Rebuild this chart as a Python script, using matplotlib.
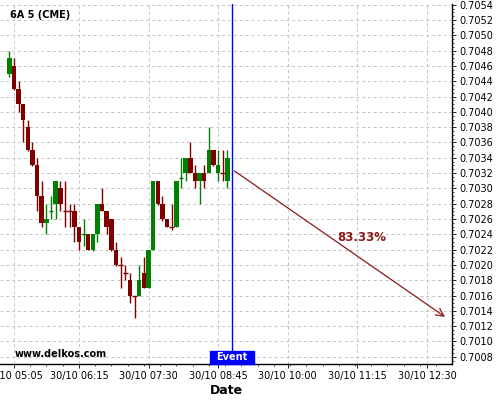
import numpy as np
import pandas as pd
import matplotlib
matplotlib.use("Agg")
import matplotlib.pyplot as plt
import matplotlib.dates as mdates
from matplotlib.path import Path
from matplotlib.ticker import MultipleLocator, AutoMinorLocator, FormatStrFormatter

# 5 minute candles, 30/10 05:00 -> 08:55
times = pd.date_range("2015-10-30 05:00", periods=48, freq="5min")

opens = [0.7045, 0.7046, 0.7043, 0.7041, 0.7038, 0.7035, 0.7033, 0.7029, 0.70255, 0.7027,
         0.7028, 0.7030, 0.7027, 0.7027, 0.7027, 0.7025, 0.7024, 0.7024, 0.7022, 0.7024,
         0.7028, 0.7027, 0.7026, 0.7022, 0.7020, 0.7019, 0.7018, 0.7016, 0.7016, 0.7019,
         0.7017, 0.7022, 0.7031, 0.7028, 0.7026, 0.7025, 0.7025, 0.70313, 0.7032, 0.7034,
         0.7032, 0.7031, 0.7032, 0.7032, 0.7035, 0.7032, 0.7032, 0.7031]
closes = [0.7047, 0.7043, 0.7041, 0.7039, 0.7035, 0.7033, 0.7029, 0.70255, 0.7026, 0.7027,
          0.7031, 0.7028, 0.7027, 0.7027, 0.7025, 0.7023, 0.7024, 0.7022, 0.7024, 0.7028,
          0.7027, 0.7025, 0.7022, 0.7020, 0.7020, 0.7019, 0.7016, 0.7016, 0.7018, 0.7017,
          0.7022, 0.7031, 0.7028, 0.7026, 0.7025, 0.7025, 0.7031, 0.70313, 0.7034, 0.7032,
          0.7031, 0.7032, 0.7031, 0.7035, 0.7033, 0.7033, 0.7032, 0.7034]
highs = [0.7048, 0.7047, 0.7044, 0.7041, 0.7039, 0.7036, 0.7034, 0.7031, 0.7028, 0.7029,
         0.7031, 0.7031, 0.7031, 0.7028, 0.7028, 0.7025, 0.7026, 0.7024, 0.7024, 0.7028,
         0.7030, 0.7027, 0.7026, 0.7023, 0.7021, 0.7020, 0.7019, 0.7016, 0.7020, 0.7021,
         0.7022, 0.7031, 0.7031, 0.7029, 0.7026, 0.7028, 0.7031, 0.7034, 0.7034, 0.7036,
         0.7033, 0.7032, 0.7033, 0.7038, 0.7035, 0.7035, 0.7035, 0.7035]
lows = [0.70445, 0.70428, 0.7040, 0.7036, 0.70349, 0.70329, 0.7027, 0.7025, 0.7024, 0.7026,
        0.7026, 0.7027, 0.7025, 0.7025, 0.7023, 0.7022, 0.70225, 0.7022, 0.70218, 0.7023,
        0.7027, 0.7024, 0.70218, 0.70199, 0.7017, 0.7018, 0.7015, 0.7013, 0.7016, 0.7017,
        0.7017, 0.7022, 0.70278, 0.70258, 0.7025, 0.70245, 0.7025, 0.7030, 0.7031, 0.7032,
        0.7030, 0.7028, 0.7030, 0.7032, 0.70329, 0.7031, 0.7031, 0.7030]

tick_times = ["05:05", "06:15", "07:30", "08:45", "10:00", "11:15", "12:30"]

event_time = pd.Timestamp("2015-10-30 09:00")
target_time = pd.Timestamp("2015-10-30 12:52")
start_price = 0.70325
target_price = 0.7013
prob_label = "83.33%"

x_start = pd.Timestamp("2015-10-30 04:50")
x_end = pd.Timestamp("2015-10-30 12:57")

up_col = "#008000"
down_col = "#800000"


def wide_box(x0, y0, width, height, mutation_size):
    # flat box, wider padding left/right than top/bottom
    px = 0.62 * mutation_size
    py = 0.14 * mutation_size
    x0, y0 = x0 - px, y0 - py
    x1, y1 = x0 + width + 2 * px, y0 + height + 2 * py
    return Path([(x0, y0), (x1, y0), (x1, y1), (x0, y1), (x0, y0)], closed=True)


fig = plt.figure(figsize=(5, 4), dpi=100)
ax = fig.add_axes([0.0, 0.09, 0.904, 0.90])

x = mdates.date2num(times)
w = 4.9 / 1440.0
o = np.array(opens); c = np.array(closes); h = np.array(highs); l = np.array(lows)

cols = []
for i in range(len(x)):
    if c[i] > o[i]:
        cols.append(up_col)
    elif c[i] < o[i]:
        cols.append(down_col)
    else:
        prev = c[i - 1] if i > 0 else c[i]
        cols.append(up_col if c[i] > prev else down_col)

ax.vlines(x, l, h, colors=cols, lw=1, zorder=2)
body = np.abs(c - o)
bottoms = np.minimum(o, c)
ax.bar(x, body, bottom=bottoms, width=w, color=cols, linewidth=0, zorder=3)
doji = body == 0
ax.hlines(c[doji], x[doji] - w / 2, x[doji] + w / 2, colors=np.array(cols)[doji], lw=1, zorder=3)

ax.set_xlim(mdates.date2num(x_start), mdates.date2num(x_end))
ax.set_ylim(0.700705, 0.70541)

ticks = [mdates.date2num(pd.Timestamp("2015-10-30 " + t)) for t in tick_times]
ax.set_xticks(ticks)
ax.xaxis.set_major_formatter(mdates.DateFormatter("%d/%m %H:%M"))
ax.xaxis.set_minor_locator(AutoMinorLocator(4))
ax.yaxis.set_major_locator(MultipleLocator(0.0002))
ax.yaxis.set_minor_locator(AutoMinorLocator(4))
ax.yaxis.set_major_formatter(FormatStrFormatter("%.4f"))
ax.yaxis.tick_right()

ax.tick_params(axis="both", which="major", labelsize=7, length=3, width=0.6, pad=2)
ax.tick_params(axis="both", which="minor", length=1.5, width=0.5)

for s in ["top", "left"]:
    ax.spines[s].set_visible(False)
for s in ["bottom", "right"]:
    ax.spines[s].set_linewidth(1)

ax.grid(True, which="major", color="#c4c4c4", linestyle=(0, (3, 3)), linewidth=0.7)
ax.set_axisbelow(True)

ax.set_xlabel("Date", fontsize=9, fontweight="bold", labelpad=2)

# event line and forecast arrow
ev = mdates.date2num(event_time)
ax.axvline(ev, color="#0000ff", lw=1, zorder=4)
ax.annotate("", xy=(mdates.date2num(target_time), target_price),
            xytext=(ev, start_price),
            arrowprops=dict(arrowstyle="->", color="#8b1a1a", lw=0.9, mutation_scale=14),
            zorder=5)
ax.text(mdates.date2num(pd.Timestamp("2015-10-30 11:20")), 0.70236, prob_label,
        color="#8b1a1a", fontsize=8.5, fontweight="bold", ha="center", va="center")

ax.annotate("Event", xy=(ev, 0), xycoords=("data", "axes fraction"),
            xytext=(0, 1.2), textcoords="offset points", ha="center", va="bottom",
            color="white", fontsize=7, fontweight="bold", zorder=6,
            bbox=dict(boxstyle=wide_box, facecolor="#0000ff", edgecolor="#0000ff"))

fig.text(10 / 500, 1 - 15.5 / 400, "6A 5 (CME)", fontsize=7, fontweight="bold",
         va="center", ha="left")
fig.text(15 / 500, 1 - 353.7 / 400, "www.delkos.com", fontsize=7, fontweight="bold",
         va="center", ha="left")

fig.savefig("out.png", dpi=100)
